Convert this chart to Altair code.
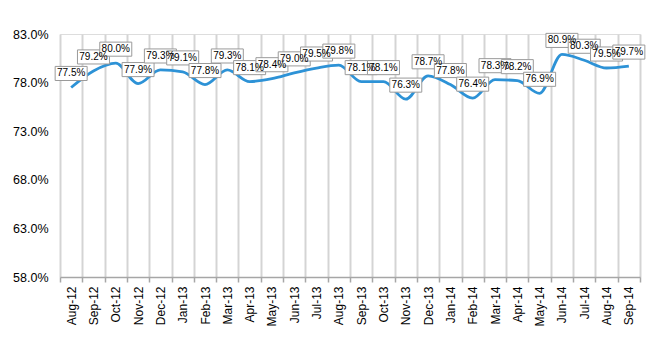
import altair as alt
import pandas as pd

months = ["Aug-12", "Sep-12", "Oct-12", "Nov-12", "Dec-12", "Jan-13", "Feb-13", "Mar-13",
          "Apr-13", "May-13", "Jun-13", "Jul-13", "Aug-13", "Sep-13", "Oct-13", "Nov-13",
          "Dec-13", "Jan-14", "Feb-14", "Mar-14", "Apr-14", "May-14", "Jun-14", "Jul-14",
          "Aug-14", "Sep-14"]
values = [77.5, 79.2, 80.0, 77.9, 79.3, 79.1, 77.8, 79.3,
          78.1, 78.4, 79.0, 79.5, 79.8, 78.1, 78.1, 76.3,
          78.7, 77.8, 76.4, 78.3, 78.2, 76.9, 80.9, 80.3,
          79.5, 79.7]
y_ticks = [0.58, 0.63, 0.68, 0.73, 0.78, 0.83]

df = pd.DataFrame({"month": months, "v": [x / 100 for x in values]})
df["label"] = [f"{x:.1f}%" for x in values]

x_enc = alt.X(
    "month:N", sort=months, title=None,
    scale=alt.Scale(paddingInner=0, paddingOuter=0),
    axis=alt.Axis(tickBand="extent", grid=True, gridColor="#d4d4d4", gridWidth=2,
                  domainColor="#a6a6a6", domainWidth=1.5, tickColor="#a6a6a6",
                  tickWidth=1.5, tickSize=5, labelAngle=-90, labelFont="Liberation Sans",
                  labelFontSize=12, labelColor="#000000", labelPadding=4),
)
y_enc = alt.Y(
    "v:Q", title=None,
    scale=alt.Scale(domain=[0.58, 0.83], zero=False, nice=False),
    axis=alt.Axis(values=y_ticks, format=".1%", grid=False, ticks=False, domain=False,
                  labelFont="Liberation Sans", labelFontSize=12.5, labelColor="#000000",
                  labelPadding=12),
)

base = alt.Chart(df).encode(x=x_enc, y=y_enc)

line = base.mark_line(interpolate="monotone", color="#2d92d6", strokeWidth=2.8)

box_shape = "M-1,-0.44 L1,-0.44 L1,0.44 L-1,0.44 Z"
boxes = base.mark_point(shape=box_shape, size=1024, filled=True, fill="white",
                        stroke="#9a9a9a", strokeWidth=1, opacity=1, yOffset=-14)
labels = base.mark_text(font="Liberation Sans", fontSize=10, color="#000000",
                        baseline="middle", align="center", yOffset=-14).encode(text="label:N")

chart = alt.layer(line, boxes, labels).properties(
    width=580, height=243,
    autosize=alt.AutoSizeParams(type="none"),
    padding={"left": 60, "top": 34, "right": 10, "bottom": 73},
).configure_view(stroke=None).configure(background="white")

chart.save("out.html", embed_options={"renderer": "svg", "actions": False})
